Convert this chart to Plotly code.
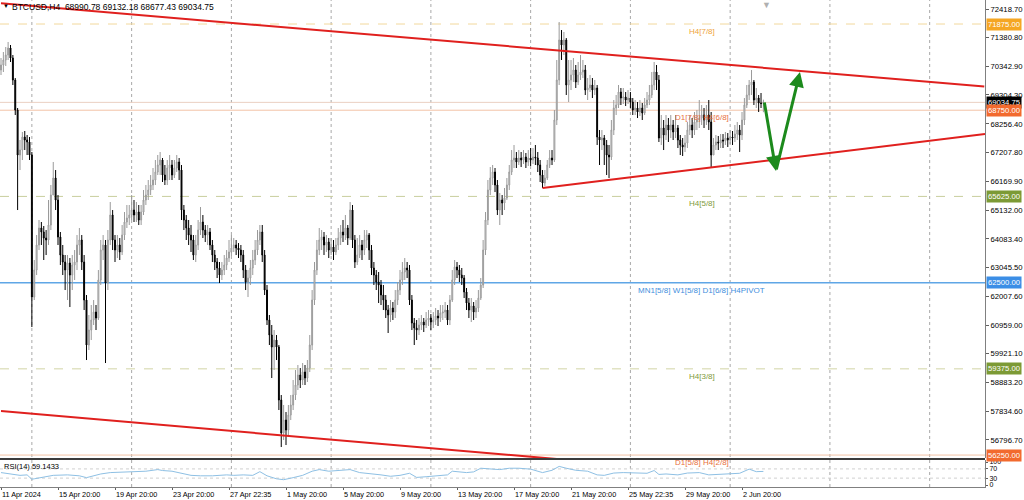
import plotly.graph_objects as go

# ---------------- data ----------------
first_open = 70207
close = [70389,70570,70751,71005,70642,69845,68757,67126,67307,67778,67670,67598,67126,61978,62957,63864,64480,64335,64117,64045,
         64589,65676,66292,65495,64153,63501,63248,62957,63211,62776,63139,63248,63864,64045,63248,61870,60239,60782,61145,61435,
         61217,62595,63682,63864,62486,64045,64951,64045,63682,63864,63610,64226,64698,64843,64951,65132,64951,65060,64770,65060,
         65495,65676,65857,66039,66220,66510,66764,66945,66401,66220,66655,66764,66401,66655,66873,66582,65132,64770,64480,64226,
         64045,63501,63864,64407,64698,64407,64226,64335,63864,63501,63248,63030,62776,62957,63139,63392,63610,63755,63864,63755,
         63682,63501,62957,62522,62667,63030,63320,63682,64045,64335,63501,62232,61145,60601,60166,60420,60166,58245,57049,57520,
         57157,57701,58064,58426,58789,59151,58970,59260,59043,59405,60239,61870,62957,63682,64045,64153,63864,63972,63682,63791,
         63610,63864,64117,64335,64226,64480,64117,65132,64045,63248,63501,63864,63682,64045,64226,63682,63030,62776,62522,62414,
         62051,61870,61507,61326,61580,61435,61870,62232,62595,62885,63030,62957,61870,61036,60855,60782,60964,61072,60964,61145,
         61217,61072,61145,61290,61217,61398,61435,61507,61145,61870,62595,63066,62957,62776,62667,62160,61761,61507,61652,61435,
         61580,61942,62414,63682,64770,65857,66292,66510,66039,65132,65495,65386,65567,66039,66510,66945,67017,66873,67017,66945,
         67054,66873,67017,66945,67054,67017,66764,66401,66111,66292,66764,67017,66945,68395,69845,71295,71114,71295,69664,69845,
         70026,70207,69772,70026,70135,70207,69482,69555,69664,69482,69555,67778,67670,67742,67489,67126,67054,68032,68830,68939,
         69410,69192,69229,69120,69192,69047,68757,68830,68685,68830,68649,68939,69120,69301,69664,70135,69845,67742,68105,67851,
         68214,68032,68214,67960,68105,67670,67489,67416,67561,68032,68214,68032,68322,68395,68467,68576,68395,68576,68322,67126,
         67489,67598,67561,67670,67634,67742,67670,67778,67742,67887,68032,67851,68395,68939,69301,69664,69772,69120,69192,69011,
         68990.78,69034.75]
high = [70642,70860,71041,71223,71114,70751,69917,68830,67670,67960,67996,67851,67778,67235,63320,64226,64770,64698,64553,64407,
        65495,66039,66873,66582,65676,64335,63864,63501,63501,63392,63501,63682,64226,64480,64226,63501,62051,61326,61689,61870,
        61689,62957,64045,64226,64045,64407,65423,65132,64226,64226,64117,64589,65060,65314,65314,65676,65495,65423,65314,65314,
        65857,66039,66220,66401,66655,66945,67126,67235,67017,66764,66945,67126,66945,66945,67126,67017,66764,65314,64951,64770,
        64589,64226,64226,64770,65241,64951,64589,64589,64480,64045,63682,63392,63248,63248,63501,63682,64045,64226,64117,64045,
        63936,63864,63682,63139,62957,63320,63682,64045,64407,64589,64589,63682,62414,61326,60964,60782,60601,60239,58426,58064,
        57810,58064,58426,58970,59332,59514,59405,59586,59514,59695,60601,62232,63248,64045,64480,64407,64335,64226,64117,64117,
        64045,64117,64480,64589,64770,64951,64589,65423,65314,64226,64117,64226,64045,64407,64407,64299,63864,63248,62957,62885,
        62595,62414,62051,61689,61870,61798,62232,62522,62957,63248,63392,63248,63139,62051,61217,61145,61217,61326,61217,61435,
        61507,61362,61435,61580,61507,61689,61689,61798,61689,62051,62957,63320,63248,63139,63030,62776,62305,61942,61942,61798,
        61870,62232,62667,64045,65060,66220,66691,66764,66655,66220,65748,65676,65930,66292,66764,67307,67489,67235,67307,67235,
        67307,67199,67307,67380,67380,67489,67235,66945,66582,66582,66945,67307,67307,68757,70570,71947,71657,71585,71367,70570,
        70570,70642,70389,70498,70751,70570,70389,69917,70026,69917,69845,69664,68032,68032,67851,67670,67489,68395,69120,69301,
        69664,69555,69555,69410,69482,69410,69192,69120,69047,69120,69011,69192,69410,69664,70135,70498,70389,70026,68576,68395,
        68576,68467,68576,68395,68576,68214,67851,67742,67851,68322,68576,68467,68685,68757,69120,68939,68830,68939,69120,68685,
        67742,67851,67815,67887,67887,67960,67924,68032,67996,68214,68322,68214,68685,69192,69664,69845,70207,69845,69555,69301,
        69374,69132.18]
low = [70026,70135,70353,70570,70498,69664,68576,65132,66582,66945,67307,67126,66945,60891,61870,62776,63682,63864,63320,63501,
       63864,64407,65676,65132,63864,63139,62776,62232,61870,61616,62232,62595,62957,63501,62957,61507,59695,60057,60420,60964,
       60782,61145,62414,63320,59586,62232,63864,63682,63248,63392,63320,63501,64045,64480,64589,64770,64698,64698,64589,64589,
       64951,65314,65495,65676,65857,66039,66401,66401,66148,66039,66039,66220,66220,66292,66510,66220,64770,64407,64045,63864,
       63610,63320,63248,63682,64226,64117,63972,63864,63682,63248,62957,62667,62486,62595,62776,62957,63248,63465,63610,63501,
       63392,63248,62667,62232,61978,62414,62776,63139,63501,63864,63248,62051,60964,60239,59043,59332,59695,57882,56541,56795,
       56614,56976,57520,57882,58245,58607,58680,58789,58789,58898,59260,60057,61689,62776,63501,63682,63501,63610,63392,63501,
       63320,63501,63682,63864,63972,64045,63864,64045,63755,63030,63139,63392,63320,63501,63755,63320,62776,62414,62232,61761,
       61689,61507,61217,60674,61072,61145,61217,61689,62051,62414,62595,62667,61689,60782,60239,60420,60601,60782,60710,60855,
       60927,60782,60855,60964,60927,61072,61145,61217,60964,60964,61798,62414,62667,62522,62414,61942,61507,61217,61072,61145,
       61217,61435,61870,62305,63501,64589,65676,66039,65784,64951,64589,64951,65132,65495,65857,66401,66655,66655,66764,66691,
       66800,66655,66728,66728,66800,66764,66510,66148,65930,66003,66220,66655,66764,66873,68214,69664,70570,70751,69301,69047,
       69482,69772,69555,69664,69845,69917,69301,69120,69410,69192,69301,67489,66764,67307,66764,66401,66292,66945,67851,68576,
       68830,68939,68975,68902,68975,68830,68576,68576,68467,68540,68395,68576,68830,68939,69192,69482,69482,67598,67489,67307,
       67670,67598,67742,67670,67742,67380,67126,67090,67235,67380,67851,67742,67851,68032,68105,68214,68105,68214,68032,66655,
       67126,67307,67307,67380,67380,67489,67416,67525,67489,67598,67670,67235,67670,68214,68830,69120,69301,68939,68830,68685,
       68830,68677.43]

# RSI(14) line, read at points along the lower pane
rsi_idx = [0,4,8,11,13,14,18,22,28,33,36,42,46,50,56,61,66,68,72,75,80,84,89,95,98,102,106,109,112,116,
           119,123,127,131,134,138,143,147,151,155,160,164,168,172,175,179,184,188,190,196,199,202,207,210,214,218,223,228,232,235,
           238,242,247,251,254,258,262,266,272,275,277,280,285,289,294,298,306,311,315,318,321]
rsi_val = [54,48,42,44,25,27,36,42,44,40,32,48,54,55,57,60,67,63,60,54,42,40,40,44,42,44,42,58,40,27,
           23,32,42,60,67,60,63,67,54,51,44,38,42,51,33,36,42,44,60,54,57,73,69,67,73,73,69,54,64,81,
           73,64,60,44,42,52,54,54,51,63,46,48,44,52,54,44,48,51,69,58,59.1433]

# time axis labels (bar index of each label)
xtick_idx = [0,24,48,72,96,120,144,168,192,216,240,264,288,312]
xtick_txt = ["11 Apr 2024","15 Apr 20:00","19 Apr 20:00","23 Apr 20:00","27 Apr 22:35","1 May 20:00",
             "5 May 20:00","9 May 20:00","13 May 20:00","17 May 20:00","21 May 20:00","25 May 22:35",
             "29 May 20:00","2 Jun 20:00"]
week_grid_idx = [13,55,97,139,181,223,265,307,349,391]

# price scale labels
ytick_vals = [72418.70,71380.80,70342.90,69304.30,68256.40,67207.80,66169.90,65132.00,64083.40,
              63045.50,62007.60,60959.00,59921.10,58883.20,57834.60,56796.70]
rsi_ticks = [0,30,70,100]

# Murrey-math style levels
level_price = [71875.00, 68750.00, 65625.00, 62500.00, 59375.00, 56250.00]
level_text = ["H4[7/8]", "D1[7/8] H4[6/8]", "H4[5/8]", "MN1[5/8] W1[5/8] D1[6/8] H4PIVOT", "H4[3/8]", "D1[5/8] H4[2/8]"]

# trend lines (bar index, price)
upper_tl_x, upper_tl_y = [0, 414], [72625, 69610]
support_tl_x, support_tl_y = [228, 414.3], [65930, 67887]
lower_tl_x, lower_tl_y = [0, 240], [57843, 56063]

# projected path (green arrow)
proj_x = [321.3, 326.3, 336.4]
proj_y = [69085, 66550, 70135]

# ---------------- figure ----------------
n = len(close)
idx = list(range(n))
opens = [first_open] + close[:-1]

FONT = "Liberation Sans"
fig = go.Figure()

fig.add_trace(go.Candlestick(
    x=idx, open=opens, high=high, low=low, close=close,
    increasing=dict(line=dict(color="#9a9a9a", width=1), fillcolor="#f2f2f2"),
    decreasing=dict(line=dict(color="#000000", width=1), fillcolor="#000000"),
    whiskerwidth=0, showlegend=False, hoverinfo="skip", xaxis="x", yaxis="y"))

red = "#E0201E"
for tx, ty in [(upper_tl_x, upper_tl_y), (support_tl_x, support_tl_y), (lower_tl_x, lower_tl_y)]:
    fig.add_trace(go.Scatter(x=tx, y=ty, mode="lines", line=dict(color=red, width=2),
                             showlegend=False, hoverinfo="skip", xaxis="x", yaxis="y"))

fig.add_trace(go.Scatter(x=rsi_idx, y=rsi_val, mode="lines", line=dict(color="#8EC0E4", width=1),
                         showlegend=False, hoverinfo="skip", xaxis="x", yaxis="y2"))

shapes = []
# weekly dotted grid through both panes
for g in week_grid_idx:
    shapes.append(dict(type="line", xref="x", yref="paper", x0=g, x1=g, y0=0, y1=1,
                       line=dict(color="#a8a8a8", width=1, dash="dot"), layer="below"))

level_line_style = [
    dict(color="#F2D89C", width=1, dash="dash"),
    dict(color="#F3C3A6", width=1, dash="solid"),
    dict(color="#C9CE9E", width=1, dash="dash"),
    dict(color="#5FA6E6", width=1.5, dash="solid"),
    dict(color="#D2D4A6", width=1, dash="dash"),
    dict(color="#F3C3A6", width=1, dash="solid"),
]
for p, st in zip(level_price, level_line_style):
    shapes.append(dict(type="line", xref="paper", yref="y", x0=0, x1=1, y0=p, y1=p,
                       line=st, layer="below"))
# bid line
shapes.append(dict(type="line", xref="paper", yref="y", x0=0, x1=1, y0=close[-1], y1=close[-1],
                   line=dict(color="#EAD0C2", width=1), layer="below"))
# RSI 70/30 levels
for v in [70, 30]:
    shapes.append(dict(type="line", xref="paper", yref="y2", x0=0, x1=1, y0=v, y1=v,
                       line=dict(color="#d0d0d0", width=1, dash="dot"), layer="below"))
# pane separator
shapes.append(dict(type="line", xref="paper", yref="paper", x0=0, x1=1, y0=0.0575, y1=0.0575,
                   line=dict(color="#3c3c3c", width=2)))

ann = []
level_text_color = ["#EFA43A", "#E8703E", "#7E9A3C", "#3F8FDD", "#7E9A3C", "#E8703E"]
for p, t, c in zip(level_price, level_text, level_text_color):
    ann.append(dict(x=295, y=p, xref="x", yref="y", text=t, showarrow=False, xanchor="center",
                    yanchor="top", yshift=-1, font=dict(family=FONT, size=8, color=c)))

box_prices = [level_price[0], close[-1], level_price[1], level_price[2], level_price[3], level_price[4], level_price[5]]
box_colors = ["#F5A623", "#000000", "#F26A2E", "#7C9A35", "#3B8EE6", "#7C9A35", "#F26A2E"]
for p, c in zip(box_prices, box_colors):
    ann.append(dict(x=1, y=p, xref="paper", yref="y", text=f"{p:.2f}", showarrow=False,
                    xanchor="left", yanchor="middle", xshift=1, bgcolor=c, borderpad=1,
                    font=dict(family=FONT, size=7.7, color="#ffffff")))

# projected path arrows
for k in range(len(proj_x) - 1):
    ann.append(dict(x=proj_x[k + 1], y=proj_y[k + 1], ax=proj_x[k], ay=proj_y[k],
                    xref="x", yref="y", axref="x", ayref="y", showarrow=True,
                    arrowhead=2, arrowsize=1, arrowwidth=3, arrowcolor="#1C8A1C", standoff=0, text=""))

header = f"BTCUSD,H4  {opens[-1]:.2f} {high[-1]:.2f} {low[-1]:.2f} {close[-1]:.2f}"
ann.append(dict(x=0, y=1, xref="paper", yref="paper", text="▼", showarrow=False, xanchor="left",
                yanchor="top", xshift=1, yshift=-1, font=dict(family=FONT, size=6, color="#000000")))
ann.append(dict(x=0, y=1, xref="paper", yref="paper", text=header, showarrow=False, xanchor="left",
                yanchor="top", xshift=10, yshift=0, font=dict(family=FONT, size=8.5, color="#000000")))
ann.append(dict(x=0, y=1, xref="paper", yref="y2 domain", text=f"RSI(14) {rsi_val[-1]:.4f}", showarrow=False,
                xanchor="left", yanchor="top", xshift=2, yshift=0, font=dict(family=FONT, size=7.5, color="#000000")))
ann.append(dict(x=322.5, y=1, xref="x", yref="paper", text="▼", showarrow=False, xanchor="center",
                yanchor="top", yshift=2, font=dict(family=FONT, size=9, color="#b0b0b0")))

fig.update_layout(
    width=1024, height=500, template="none",
    margin=dict(l=0, r=39, t=0, b=13),
    paper_bgcolor="#ffffff", plot_bgcolor="#ffffff",
    boxgap=0.45, showlegend=False, hovermode=False,
    font=dict(family=FONT, size=8, color="#000000"),
    xaxis=dict(domain=[0, 1], range=[-0.42, 414.3], anchor="y2", showgrid=False, zeroline=False,
               tickmode="array", tickvals=xtick_idx, ticktext=xtick_txt, ticks="outside", ticklen=2,
               tickcolor="#606060", tickfont=dict(family=FONT, size=7.3, color="#000000"),
               ticklabelposition="outside right", showline=True, linecolor="#808080", linewidth=1,
               rangeslider=dict(visible=False), automargin=False),
    yaxis=dict(domain=[0.0595, 1], range=[56142.5, 72745], side="right", anchor="x",
               tickmode="array", tickvals=ytick_vals, ticktext=[f"{v:.2f}" for v in ytick_vals],
               ticks="outside", ticklen=3, tickcolor="#606060", showgrid=False, zeroline=False,
               showline=True, linecolor="#808080", linewidth=1, mirror=True,
               tickfont=dict(family=FONT, size=7.7, color="#000000"), automargin=False),
    yaxis2=dict(domain=[0, 0.0554], range=[-8.7, 108.7], side="right", anchor="x",
                tickmode="array", tickvals=rsi_ticks, ticktext=[str(v) for v in rsi_ticks],
                ticks="outside", ticklen=2, tickcolor="#606060", showgrid=False, zeroline=False,
                showline=True, linecolor="#808080", linewidth=1, mirror=True,
                tickfont=dict(family=FONT, size=7, color="#000000"), automargin=False),
    shapes=shapes, annotations=ann,
)

fig.write_html("out.html", config={"displayModeBar": False},
               post_script="document.body.style.margin='0px';document.body.style.overflow='hidden';")
